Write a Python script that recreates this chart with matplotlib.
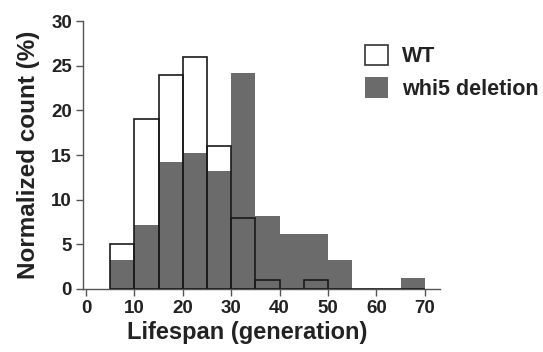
import matplotlib.pyplot as plt
from matplotlib.patches import Patch

# bin left edges (generation), width 5
bin_left = [5, 10, 15, 20, 25, 30, 35, 40, 45, 50, 55, 60, 65]
wt = [5, 19, 24, 26, 16, 8, 1, 0, 1, 0, 0, 0, 0]
whi5 = [3.2, 7.2, 14.2, 15.2, 13.2, 24.2, 8.2, 6.2, 6.2, 3.2, 0, 0, 1.2]

x_ticks = [0, 10, 20, 30, 40, 50, 60, 70]
y_ticks = [0, 5, 10, 15, 20, 25, 30]

gray = '#6b6b6b'

plt.rcParams['font.family'] = ['Liberation Sans', 'DejaVu Sans']
plt.rcParams['font.weight'] = 'bold'

fig = plt.figure(figsize=(5.43, 3.52), dpi=100)
ax = fig.add_axes([0.153, 0.179, 0.657, 0.761])

# WT white fill behind, deletion bars, then WT outline on top
ax.bar(bin_left, wt, width=5, align='edge', color='white', edgecolor='none', zorder=1)
ax.bar(bin_left, whi5, width=5, align='edge', color=gray, edgecolor='none', zorder=2)
ax.bar(bin_left, wt, width=5, align='edge', fill=False, edgecolor='#1a1a1a',
       linewidth=1.2, zorder=3)

ax.set_xlim(-0.6, 73.1)
ax.set_ylim(0, 30)
ax.set_xticks(x_ticks)
ax.set_yticks(y_ticks)
ax.tick_params(axis='both', labelsize=13.5, length=5, width=1, color='#555555', pad=3)
for lbl in ax.get_xticklabels() + ax.get_yticklabels():
    lbl.set_fontweight('bold')
    lbl.set_color('#222222')

for s in ['top', 'right']:
    ax.spines[s].set_visible(False)
for s in ['left', 'bottom']:
    ax.spines[s].set_color('#555555')
    ax.spines[s].set_linewidth(1)

ax.set_xlabel('Lifespan (generation)', fontsize=17, fontweight='bold', color='#222222')
ax.xaxis.set_label_coords(0.46, -0.118, transform=ax.transAxes)
ax.xaxis.label.set_va('top')
ax.set_ylabel('Normalized count (%)', fontsize=17.5, fontweight='bold', color='#222222', labelpad=8)

handles = [Patch(facecolor='white', edgecolor='#333333', linewidth=1.2, label='WT'),
           Patch(facecolor=gray, edgecolor='none', label='whi5 deletion')]
leg = ax.legend(handles=handles, loc='upper left', bbox_to_anchor=(0.735, 0.985),
                frameon=False, prop={'size': 15.5, 'weight': 'bold'},
                handlelength=1.1, handleheight=1.1, handletextpad=0.65, labelspacing=0.45)
for t in leg.get_texts():
    t.set_color('#222222')

fig.savefig('out.png', dpi=100)
